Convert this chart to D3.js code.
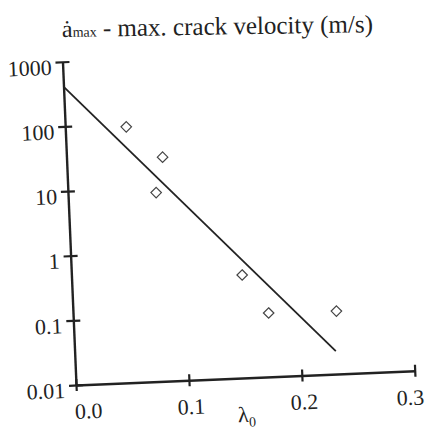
<!DOCTYPE html>
<html>
<head>
<meta charset="utf-8">
<script src="https://cdn.jsdelivr.net/npm/d3@7"></script>
<style>
  body { margin: 0; background: #fff; }
  svg { display: block; }
  text { font-family: "Liberation Serif", "DejaVu Serif", "Times New Roman", Times, serif; fill: #222; }
</style>
</head>
<body>
<div id="chart"></div>
<script>
// crack velocity vs lambda_0 (semi-log)
const lambda0 = [0.054, 0.085, 0.078, 0.151, 0.173, 0.233];
const crackVelocity = [90, 29, 8.3, 0.39, 0.097, 0.094];

// fitted line end points
const fitLambda = [0.0, 0.231];
const fitVelocity = [412, 0.0227];

const xTicks = [0.0, 0.1, 0.2, 0.3];
const xTickLabels = ['0.0', '0.1', '0.2', '0.3'];
const yTicks = [0.01, 0.1, 1, 10, 100, 1000];
const yTickLabels = ['0.01', '0.1', '1', '10', '100', '1000'];

const serif = '"Liberation Serif", "DejaVu Serif", "Times New Roman", Times, serif';

const width = 426, height = 432;
const origin = { x: 76, y: 385 };
const plotW = 339, plotH = 323.5;
const tilt = -2.4; // the scan is slightly rotated

const svg = d3.select('#chart').append('svg')
  .attr('width', width)
  .attr('height', height);

svg.append('rect').attr('width', width).attr('height', height).attr('fill', '#fff');

// title
const title = svg.append('text')
  .attr('x', 62)
  .attr('y', 37)
  .attr('transform', 'rotate(-0.9, 62, 37)')
  .style('font-family', serif)
  .style('font-size', '24px');
title.append('tspan').text('\u0227');
title.append('tspan').style('font-size', '14px').text('max');
title.append('tspan').style('font-size', '25px').text(' - max. crack velocity (m/s)');

const g = svg.append('g')
  .attr('transform', `translate(${origin.x}, ${origin.y}) rotate(${tilt})`);

const x = d3.scaleLinear().domain([0, 0.3]).range([0, plotW]);
const y = d3.scaleLog().domain([0.01, 1000]).range([0, -plotH]);

// x axis
const gx = g.append('g')
  .call(d3.axisBottom(x)
    .tickValues(xTicks)
    .tickFormat((d, i) => xTickLabels[i])
    .tickSizeOuter(0));
gx.attr('font-family', null);
gx.select('.domain').attr('stroke', '#222').attr('stroke-width', 2.4);
gx.selectAll('.tick line')
  .attr('y1', -6).attr('y2', 6)
  .attr('stroke', '#222').attr('stroke-width', 2.2);
gx.selectAll('.tick text')
  .attr('y', 34).attr('dy', 0)
  .attr('dx', (d, i) => i === 0 ? 11 : (i === xTicks.length - 1 ? -6 : 1))
  .style('font-size', '22px')
  .style('font-family', serif)
  .attr('fill', '#222');

// y axis
const gy = g.append('g')
  .call(d3.axisLeft(y)
    .tickValues(yTicks)
    .tickFormat((d, i) => yTickLabels[i])
    .tickSizeOuter(0));
gy.attr('font-family', null);
gy.select('.domain').attr('stroke', '#222').attr('stroke-width', 2.4);
gy.selectAll('.tick line')
  .attr('x1', -7).attr('x2', 7)
  .attr('stroke', '#222').attr('stroke-width', 2.2);
gy.selectAll('.tick text')
  .attr('x', -11).attr('dy', 12)
  .style('font-size', '22px')
  .style('font-family', serif)
  .attr('fill', '#222');

// axis title
const xt = g.append('text')
  .attr('x', x(0.15))
  .attr('y', 44)
  .attr('text-anchor', 'middle')
  .style('font-family', serif)
  .style('font-size', '22px');
xt.append('tspan').text('\u03bb');
xt.append('tspan').attr('dy', 5).style('font-size', '14px').text('0');

// fit line
const fit = fitLambda.map((d, i) => [d, fitVelocity[i]]);
g.append('path')
  .datum(fit)
  .attr('d', d3.line().x(d => x(d[0])).y(d => y(d[1])))
  .attr('fill', 'none')
  .attr('stroke', '#222')
  .attr('stroke-width', 1.8);

// data points
const pts = lambda0.map((d, i) => [d, crackVelocity[i]]);
g.append('g')
  .selectAll('path')
  .data(pts)
  .join('path')
  .attr('transform', d => `translate(${x(d[0])}, ${y(d[1])}) rotate(${-tilt})`)
  .attr('d', d3.symbol().type(d3.symbolDiamond2).size(70))
  .attr('fill', 'none')
  .attr('stroke', '#444')
  .attr('stroke-width', 1.2);
</script>
</body>
</html>
